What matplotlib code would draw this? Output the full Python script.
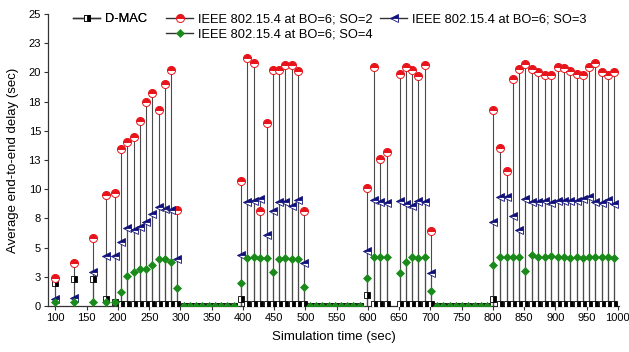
import numpy as np
import matplotlib.pyplot as plt
from matplotlib.lines import Line2D

plt.rcParams['font.family'] = ['Liberation Sans', 'DejaVu Sans']

# simulation times (sec)
t = [100, 130, 160, 181, 195, 205, 215, 225, 235, 245, 255, 265, 275, 285, 295,
     305, 315, 325, 335, 345, 355, 365, 375, 385,
     397, 407, 418, 428, 438, 448, 458, 468, 479, 488, 497,
     507, 517, 527, 537, 547, 557, 567, 577, 587,
     599, 610, 620, 630, 651, 661, 671, 681, 691, 701,
     711, 721, 731, 741, 751, 761, 771, 781, 791,
     800, 812, 822, 832, 842, 852, 862, 873, 883, 893, 904, 914, 924, 934, 944,
     954, 964, 974, 984, 994]

nan = np.nan
gap = [nan] * 9
gap0 = [0.0] * 9

dmac = ([2.0, 2.3, 2.3, 0.6, 0.3, 0.15, 0.15, 0.15, 0.15, 0.15, 0.15, 0.15, 0.15, 0.15, 0.15]
        + gap0
        + [0.6, 0.15, 0.15, 0.15, 0.15, 0.15, 0.15, 0.15, 0.15, 0.15, 0.15]
        + gap0
        + [0.9, 0.15, 0.15, 0.15, 0.15, 0.15, 0.15, 0.15, 0.15, 0.15]
        + gap0
        + [0.6] + [0.15] * 19)

so2 = ([2.4, 3.7, 5.8, 9.5, 9.7, 13.4, 14.0, 14.5, 15.8, 17.5, 18.2, 16.8, 19.0, 20.2, 8.2]
       + gap
       + [10.7, 21.2, 20.8, 8.1, 15.7, 20.2, 20.2, 20.6, 20.6, 20.1, 8.1]
       + gap
       + [10.1, 20.5, 12.6, 13.2, 19.9, 20.5, 20.2, 19.7, 20.6, 6.4]
       + gap
       + [16.8, 13.5, 11.6, 19.4, 20.3, 20.7, 20.3, 20.0, 19.8, 19.8, 20.5, 20.4,
          20.1, 19.9, 19.8, 20.5, 20.8, 20.0, 19.8, 20.0])

so3 = ([0.6, 0.7, 2.9, 4.3, 4.3, 5.5, 6.7, 6.5, 6.8, 7.2, 7.9, 8.5, 8.3, 8.2, 4.0]
       + gap
       + [4.4, 8.9, 9.0, 9.2, 6.1, 8.1, 8.9, 8.9, 8.6, 9.1, 3.7]
       + gap
       + [4.7, 9.1, 8.9, 8.8, 9.0, 8.7, 8.6, 9.0, 8.9, 2.8]
       + gap
       + [7.2, 9.3, 9.3, 7.7, 6.5, 9.2, 8.9, 8.9, 9.0, 8.8, 9.0, 9.0, 9.0, 9.0,
          9.2, 9.3, 8.9, 8.8, 9.1, 8.7])

so4 = ([0.3, 0.3, 0.35, 0.35, 0.3, 1.2, 2.6, 2.9, 3.2, 3.2, 3.5, 4.0, 4.0, 3.8, 1.5]
       + gap0
       + [2.0, 4.1, 4.2, 4.1, 4.1, 2.9, 4.0, 4.1, 4.0, 4.0, 1.6]
       + gap0
       + [2.4, 4.2, 4.2, 4.2, 2.8, 3.8, 4.2, 4.1, 4.2, 1.3]
       + gap0
       + [3.5, 4.2, 4.2, 4.2, 4.2, 3.0, 4.4, 4.2, 4.2, 4.3, 4.2, 4.2, 4.1, 4.2,
          4.1, 4.2, 4.2, 4.2, 4.2, 4.1])

yticks = [0, 2.5, 5, 7.5, 10, 12.5, 15, 17.5, 20, 22.5, 25]
ytick_labels = ['0', '3', '5', '8', '10', '13', '15', '18', '20', '23', '25']
xticks = list(range(100, 1001, 50))

labels = ['D-MAC', 'IEEE 802.15.4 at BO=6; SO=2',
          'IEEE 802.15.4 at BO=6; SO=3', 'IEEE 802.15.4 at BO=6; SO=4']

fig = plt.figure(figsize=(6.29, 3.52), dpi=100)
ax = fig.add_axes([48 / 629, 1 - 306 / 352, 571 / 629, 292 / 352])

t = np.array(t)
series = [np.array(dmac), np.array(so2), np.array(so3), np.array(so4)]

# drop lines from the axis to each point
for s in series:
    ok = ~np.isnan(s)
    ax.vlines(t[ok], 0, s[ok], color='#4a4a4a', lw=0.8, zorder=1)

styles = [
    dict(marker='s', ms=4.0, fillstyle='right', mfc='black', mfcalt='white', mec='black', mew=0.6),
    dict(marker='o', ms=5.8, fillstyle='top', mfc='#e8141b', mfcalt='white', mec='#e8141b', mew=0.7),
    dict(marker='<', ms=5.6, fillstyle='top', mfc='#10107a', mfcalt='white', mec='#10107a', mew=0.6),
    dict(marker='D', ms=4.3, mfc='#1a8a1a', mec='#1a8a1a', mew=0.5),
]

for s, st in zip(series, styles):
    ax.plot(t, s, ls='none', zorder=3, **st)

ax.set_xlim(88, 1002)
ax.set_ylim(0, 25)
ax.set_xticks(xticks)
ax.set_xticklabels([str(x) for x in xticks])
ax.set_yticks(yticks)
ax.set_yticklabels(ytick_labels)
ax.tick_params(direction='out', length=3, width=0.8, labelsize=8, color='#333333', pad=2)
for sp in ['top', 'right']:
    ax.spines[sp].set_visible(False)
for sp in ['left', 'bottom']:
    ax.spines[sp].set_color('#333333')
    ax.spines[sp].set_linewidth(0.9)

ax.set_xlabel('Simulation time (sec)', fontsize=9.5, labelpad=6)
ax.set_ylabel('Average end-to-end delay (sec)', fontsize=9.5, labelpad=7)

handles = [Line2D([], [], color='#333333', lw=1.0, **st) for st in styles]

leg1 = fig.legend([handles[0]], [labels[0]], loc='upper left',
                  bbox_to_anchor=(73 / 629, 1 - 13 / 352), frameon=False,
                  fontsize=9.3, handlelength=2.1, handletextpad=0.35, borderpad=0,
                  borderaxespad=0, numpoints=1)
fig.legend([handles[1], handles[3], handles[2]], [labels[1], labels[3], labels[2]],
           loc='upper left', bbox_to_anchor=(166 / 629, 1 - 13 / 352), ncol=2,
           frameon=False, fontsize=9.3, handlelength=2.1, handletextpad=0.35,
           columnspacing=0.6, labelspacing=0.25, borderpad=0, borderaxespad=0,
           numpoints=1)
fig.add_artist(leg1)

fig.savefig('out.png', dpi=100)
